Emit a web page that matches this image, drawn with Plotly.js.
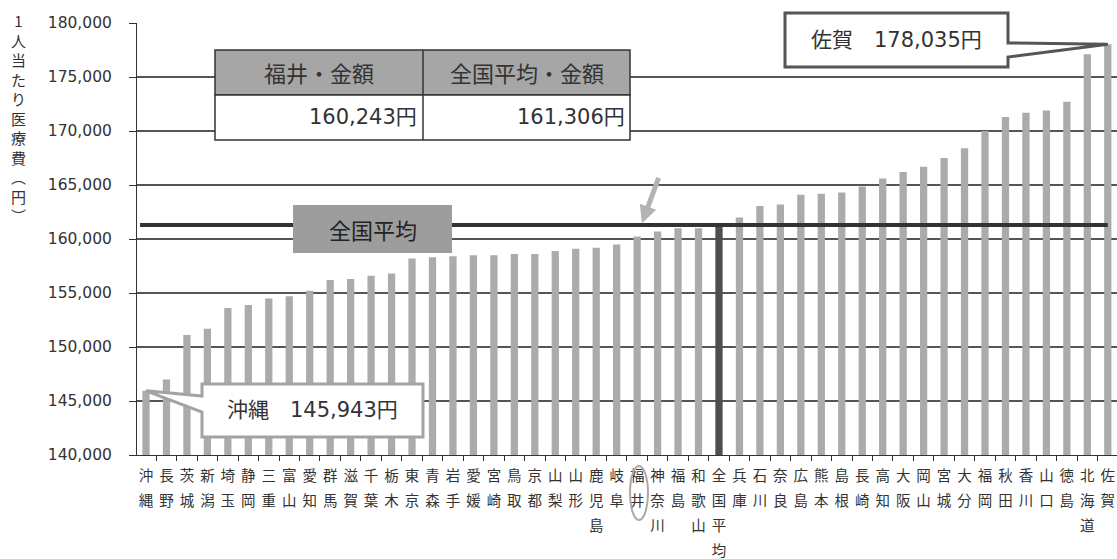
<!DOCTYPE html>
<html>
<head>
<meta charset="utf-8">
<script src="https://cdn.plot.ly/plotly-3.0.1.min.js"></script>
<style>html,body{margin:0;padding:0;background:#fff;}#chart{width:1117px;height:559px;}</style>
</head>
<body>
<div id="chart"></div>
<script>
// ---- data ----
const prefectures = ['沖縄','長野','茨城','新潟','埼玉','静岡','三重','富山','愛知','群馬','滋賀','千葉','栃木','東京','青森','岩手','愛媛','宮崎','鳥取','京都','山梨','山形','鹿児島','岐阜','福井','神奈川','福島','和歌山','全国平均','兵庫','石川','奈良','広島','熊本','島根','長崎','高知','大阪','岡山','宮城','大分','福岡','秋田','香川','山口','徳島','北海道','佐賀'];
const costPerPerson = [145943,147000,151100,151700,153600,153900,154500,154700,155200,156200,156300,156600,156800,158200,158300,158400,158500,158500,158600,158600,158900,159100,159200,159500,160243,160700,161000,161000,161306,162000,163050,163200,164100,164200,164300,164850,165600,166200,166700,167500,168400,170000,171300,171700,171900,172700,177100,178035];
const yTickValues = [140000,145000,150000,155000,160000,165000,170000,175000,180000];
const averageName = '全国平均';
const highlightName = '福井';
const lowName = '沖縄';
const highName = '佐賀';
const yTitle = '1人当たり医療費（円）';

// ---- helpers ----
const fmt = v => v.toLocaleString('en-US');
const idx = n => prefectures.indexOf(n);
const avgVal = costPerPerson[idx(averageName)];
const fukuiVal = costPerPerson[idx(highlightName)];
const lowVal = costPerPerson[idx(lowName)];
const highVal = costPerPerson[idx(highName)];

const L = 137, T = 23, W = 980, H = 432;           // plot area in px
const YR = [140000, 180000], XR = [-0.44, 47.45];
const px = x => (x - L) / W;                         // pixel -> paper x
const py = y => (T + H - y) / H;                     // pixel -> paper y
const dx = i => (i - XR[0]) / (XR[1] - XR[0]);       // index -> paper x
const dy = v => (v - YR[0]) / (YR[1] - YR[0]);       // value -> paper y

const tickText = prefectures.map(n => n.split('').map(c => '<span style="font-size:14.5px">' + c + '</span>').join('<br>'));
const barColors = prefectures.map(n => n === averageName ? '#4e4e4e' : '#ababab');

// vertical y title (upright characters)
const vChars = yTitle.replace('（', '︵').replace('）', '︶').split('');

const trace = {
  type: 'bar',
  x: prefectures,
  y: costPerPerson,
  marker: {color: barColors, line: {width: 0}},
  hoverinfo: 'x+y'
};

const cjk = '"Noto Sans CJK JP", "Noto Sans", sans-serif';
const num = '"DejaVu Sans", "Noto Sans CJK JP", sans-serif';

// callout paths
const sagaTipX = dx(idx(highName)), sagaTipY = dy(highVal);
const sagaPath = `M ${px(785)} ${py(13)} L ${px(1008)} ${py(13)} L ${px(1008)} ${py(43)} L ${sagaTipX} ${sagaTipY} L ${px(1008)} ${py(57)} L ${px(1008)} ${py(67)} L ${px(785)} ${py(67)} Z`;
const okiTipX = dx(idx(lowName)), okiTipY = dy(lowVal);
const okiPath = `M ${px(202)} ${py(384)} L ${px(423)} ${py(384)} L ${px(423)} ${py(437)} L ${px(202)} ${py(437)} L ${px(202)} ${py(412)} L ${okiTipX} ${okiTipY} L ${px(202)} ${py(396)} Z`;

const txt = (x, y, text, font, xanchor) => ({xref: 'paper', yref: 'paper', x: x, y: y, text: text, showarrow: false,
  xanchor: xanchor || 'center', yanchor: 'middle', font: font});

const layout = {
  width: 1117, height: 559,
  margin: {l: L, r: 0, t: T, b: 559 - T - H, pad: 0},
  paper_bgcolor: '#ffffff', plot_bgcolor: '#ffffff',
  showlegend: false,
  bargap: 0.645,
  font: {family: cjk, color: '#333'},
  xaxis: {
    type: 'category', range: XR, fixedrange: true,
    tickvals: prefectures, ticktext: tickText, tickangle: 0,
    tickfont: {family: cjk, size: 19.2, color: '#333'},
    ticks: 'outside', ticklen: 5, tickcolor: '#333', tickwidth: 1, tickson: 'boundaries',
    ticklabelstandoff: 2,
    showline: true, linecolor: '#333', linewidth: 1,
    showgrid: false, zeroline: false
  },
  yaxis: {
    range: YR, fixedrange: true,
    tickvals: yTickValues, ticktext: yTickValues.map(fmt),
    tickfont: {family: num, size: 15.5, color: '#333'},
    ticks: 'outside', ticklen: 7, tickcolor: '#333', tickwidth: 1,
    ticklabelstandoff: 14,
    showline: true, linecolor: '#333', linewidth: 1,
    showgrid: true, gridcolor: '#555', gridwidth: 1.2, zeroline: false
  },
  shapes: [
    // national average line
    {type: 'line', xref: 'paper', yref: 'y', x0: px(140), x1: dx(idx(highName)), y0: avgVal, y1: avgVal,
     line: {color: '#333', width: 4}, layer: 'above'},
    // average label box
    {type: 'rect', xref: 'paper', yref: 'paper', x0: px(293), x1: px(452), y0: py(253), y1: py(205),
     fillcolor: '#9d9d9d', line: {width: 0}, layer: 'above'},
    // table
    {type: 'rect', xref: 'paper', yref: 'paper', x0: px(215), x1: px(630), y0: py(95), y1: py(50),
     fillcolor: '#a6a6a6', line: {color: '#333', width: 1.5}, layer: 'above'},
    {type: 'rect', xref: 'paper', yref: 'paper', x0: px(215), x1: px(630), y0: py(140), y1: py(95),
     fillcolor: '#ffffff', line: {color: '#333', width: 1.5}, layer: 'above'},
    {type: 'line', xref: 'paper', yref: 'paper', x0: px(423), x1: px(423), y0: py(140), y1: py(50),
     line: {color: '#333', width: 1.5}, layer: 'above'},
    // callouts
    {type: 'path', xref: 'paper', yref: 'paper', path: sagaPath, fillcolor: '#ffffff',
     line: {color: '#555', width: 3}, layer: 'above'},
    {type: 'path', xref: 'paper', yref: 'paper', path: okiPath, fillcolor: '#ffffff',
     line: {color: '#a3a3a3', width: 3}, layer: 'above'},
    // hand-drawn ellipse around Fukui label
    {type: 'circle', xref: 'paper', yref: 'paper', x0: px(630), x1: px(648), y0: py(520), y1: py(466),
     line: {color: '#aaaaaa', width: 2}, layer: 'above'}
  ],
  annotations: [
    {xref: 'paper', yref: 'paper', x: px(18), y: py(8), xanchor: 'center', yanchor: 'top',
     text: vChars.join('<br>'), showarrow: false, font: {family: cjk, size: 15, color: '#333'}, align: 'center'},
    txt((px(293) + px(452)) / 2, (py(205) + py(253)) / 2, averageName, {family: cjk, size: 22, color: '#222'}),
    txt((px(215) + px(423)) / 2, py(72), highlightName + '・金額', {family: cjk, size: 22, color: '#333'}),
    txt((px(423) + px(630)) / 2, py(72), averageName + '・金額', {family: cjk, size: 22, color: '#333'}),
    txt(px(419), py(117), fmt(fukuiVal) + '円', {family: num, size: 21, color: '#333'}, 'right'),
    txt(px(627), py(117), fmt(avgVal) + '円', {family: num, size: 21, color: '#333'}, 'right'),
    txt((px(785) + px(1008)) / 2, py(40), highName + '　' + fmt(highVal) + '円', {family: num, size: 21, color: '#333'}),
    txt((px(202) + px(423)) / 2, py(410), lowName + '　' + fmt(lowVal) + '円', {family: num, size: 21, color: '#333'}),
    // arrow pointing at Fukui
    {x: highlightName, y: fukuiVal, xref: 'x', yref: 'y', text: '', showarrow: true,
     arrowhead: 2, arrowsize: 0.7, arrowwidth: 5, arrowcolor: '#b3b3b3', standoff: 14, ax: 22, ay: -60}
  ]
};

Plotly.newPlot('chart', [trace], layout, {displayModeBar: false, staticPlot: true});
</script>
</body>
</html>
